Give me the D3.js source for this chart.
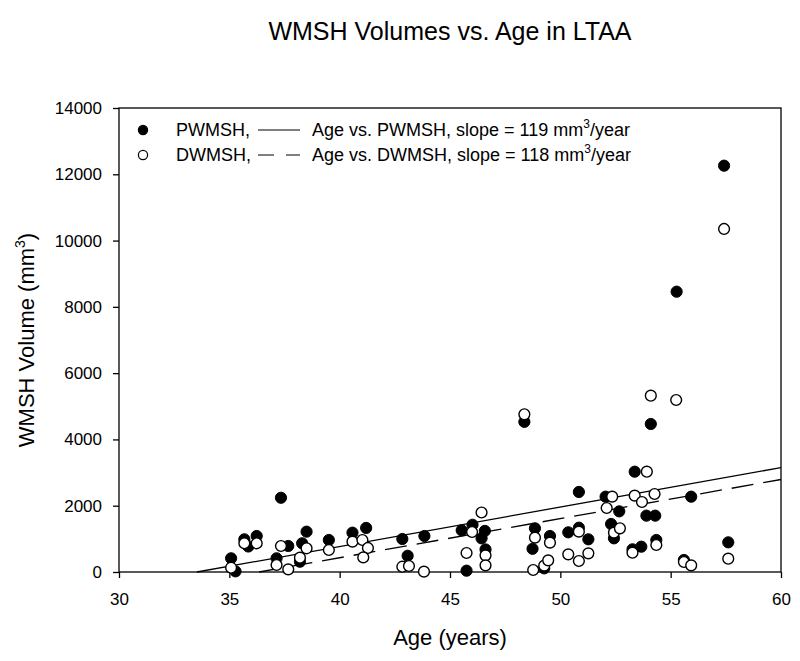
<!DOCTYPE html>
<html>
<head>
<meta charset="utf-8">
<title>WMSH Volumes vs. Age in LTAA</title>
<script src="https://cdn.jsdelivr.net/npm/d3@7"></script>
<style>
  body { margin: 0; background: #fff; }
  text { font-family: "Liberation Sans", Arial, sans-serif; fill: #000; }
</style>
</head>
<body>
<script>
// ages and volumes (mm^3)
var pAge = [35.08, 35.28, 35.68, 35.86, 36.24, 37.14, 37.34, 37.67, 38.2, 38.3, 38.5, 39.51,
            40.58, 41.2, 42.84, 43.08, 43.84, 45.53, 45.75, 46.02, 46.43, 46.58, 46.61, 48.37,
            48.74, 48.85, 49.27, 49.53, 50.36, 50.84, 50.84, 51.27, 52.05, 52.3, 52.43, 52.67,
            53.27, 53.37, 53.67, 53.9, 54.1, 54.3, 54.35, 55.27, 55.6, 55.93, 57.42, 57.61];
var pwmsh = [413, 20, 986, 770, 1086, 413, 2240, 785, 311, 866, 1217, 966,
             1187, 1330, 996, 490, 1086, 1257, 40, 1425, 1016, 1240, 680, 4530,
             700, 1318, 110, 1086, 1197, 2415, 1337, 986, 2273, 1448, 1016, 1830,
             684, 3027, 764, 1700, 4466, 1700, 966, 8458, 362, 2273, 12260, 895];

var dAge = [35.08, 35.68, 36.24, 37.14, 37.34, 37.67, 38.2, 38.5, 39.51, 40.58, 41.03, 41.28,
            41.07, 42.84, 43.14, 43.82, 45.75, 46.0, 46.43, 46.61, 46.61, 48.37, 48.77, 48.85,
            49.27, 49.45, 49.53, 50.36, 50.84, 50.84, 51.27, 52.1, 52.35, 52.43, 52.7, 53.27,
            53.37, 53.7, 53.92, 54.1, 54.27, 54.35, 55.25, 55.6, 55.93, 57.42, 57.61];
var dwmsh = [130, 866, 866, 211, 785, 80, 432, 715, 664, 915, 966, 725,
             440, 160, 181, 10, 573, 1207, 1795, 503, 200, 4758, 60, 1036,
             191, 352, 885, 533, 1217, 332, 563, 1931, 2273, 1187, 1318, 583,
             2303, 2112, 3027, 5320, 2354, 815, 5190, 302, 201, 10350, 402];

// regression fits: slope (mm^3/year) and intercept
var fitNames = ["PWMSH", "DWMSH"];
var fitSlope = [119, 118];
var fitIntercept = [-3990, -4289];

var xTicks = [30, 35, 40, 45, 50, 55, 60];
var yTicks = [0, 2000, 4000, 6000, 8000, 10000, 12000, 14000];

var W = 800, H = 661;
var margin = {top: 108, right: 19, bottom: 89, left: 119};

var svg = d3.select("body").append("svg").attr("width", W).attr("height", H);

var x = d3.scaleLinear().domain([30, 60]).range([margin.left, W - margin.right]);
var y = d3.scaleLinear().domain([0, 14000]).range([H - margin.bottom, margin.top]);

// title
svg.append("text").attr("x", (margin.left + W - margin.right) / 2).attr("y", 40)
    .attr("text-anchor", "middle").style("font-size", "25px")
    .text("WMSH Volumes vs. Age in LTAA");

// frame
svg.append("rect").attr("x", x(30)).attr("y", y(14000))
    .attr("width", x(60) - x(30)).attr("height", y(0) - y(14000))
    .style("fill", "none").style("stroke", "#000").style("stroke-width", 1.3);

// axes
var xAxis = svg.append("g").attr("transform", "translate(0," + y(0) + ")")
    .call(d3.axisBottom(x).tickValues(xTicks).tickSize(6).tickPadding(15).tickFormat(d3.format("d")));
var yAxis = svg.append("g").attr("transform", "translate(" + x(30) + ",0)")
    .call(d3.axisLeft(y).tickValues(yTicks).tickSize(6).tickPadding(11).tickFormat(d3.format("d")));
[xAxis, yAxis].forEach(function(g) {
    g.select(".domain").remove();
    g.selectAll("line").style("stroke", "#000").style("stroke-width", 1.3);
    g.selectAll("text").style("font-size", "17px").style("font-family", "'Liberation Sans', Arial, sans-serif");
});

// axis titles
svg.append("text").attr("x", (margin.left + W - margin.right) / 2).attr("y", 645)
    .attr("text-anchor", "middle").style("font-size", "22px").text("Age (years)");

var yl = svg.append("text").attr("transform", "translate(34," + (margin.top + H - margin.bottom) / 2 + ") rotate(-90)")
    .attr("text-anchor", "middle").style("font-size", "22px");
yl.append("tspan").text("WMSH Volume (mm");
yl.append("tspan").attr("dy", -9).style("font-size", "14px").text("3");
yl.append("tspan").attr("dy", 9).text(")");

// regression lines, from where they cross zero up to age 60
var dashes = [null, "22,10"];
fitNames.forEach(function(n, i) {
    var a0 = -fitIntercept[i] / fitSlope[i];
    svg.append("line")
        .attr("x1", x(a0)).attr("y1", y(0))
        .attr("x2", x(60)).attr("y2", y(fitSlope[i] * 60 + fitIntercept[i]))
        .style("stroke", "#000").style("stroke-width", 1.3)
        .style("stroke-dasharray", dashes[i]);
});

// points: PWMSH filled, DWMSH open on top
svg.append("g").selectAll("circle").data(pAge).enter().append("circle")
    .attr("cx", function(d) { return x(d); })
    .attr("cy", function(d, i) { return y(pwmsh[i]); })
    .attr("r", 5.6).style("fill", "#000").style("stroke", "#000").style("stroke-width", 1);

svg.append("g").selectAll("circle").data(dAge).enter().append("circle")
    .attr("cx", function(d) { return x(d); })
    .attr("cy", function(d, i) { return y(dwmsh[i]); })
    .attr("r", 5.4).style("fill", "#fff").style("stroke", "#000").style("stroke-width", 1.4);

// legend
var legend = svg.append("g");
var rows = [
    {name: "PWMSH,", fill: "#000", dash: null, label: "Age vs. PWMSH, slope = " + fitSlope[0] + " mm"},
    {name: "DWMSH,", fill: "#fff", dash: "16,12", label: "Age vs. DWMSH, slope = " + fitSlope[1] + " mm"}
];
rows.forEach(function(r, i) {
    var cy = 130 + i * 25;
    legend.append("circle").attr("cx", 143).attr("cy", cy).attr("r", 4.6)
        .style("fill", r.fill).style("stroke", "#000").style("stroke-width", 1.2);
    legend.append("text").attr("x", 176).attr("y", cy + 6).style("font-size", "18px").text(r.name);
    legend.append("line").attr("x1", 258).attr("x2", 300).attr("y1", cy).attr("y2", cy)
        .style("stroke", "#000").style("stroke-width", 1).style("stroke-dasharray", r.dash);
    var t = legend.append("text").attr("x", 312).attr("y", cy + 6).style("font-size", "18px");
    t.append("tspan").text(r.label);
    t.append("tspan").attr("dy", -8).style("font-size", "12px").text("3");
    t.append("tspan").attr("dy", 8).text("/year");
});
</script>
</body>
</html>
